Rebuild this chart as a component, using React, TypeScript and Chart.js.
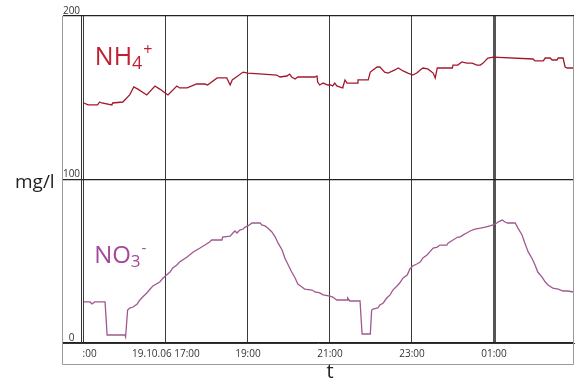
import { useEffect, useRef } from "react";
import { Chart, registerables } from "chart.js";

Chart.register(...registerables);

// time in minutes after 19.10.06 15:00
const X_MIN = -32;
const X_MAX = 717;
const X_TICKS = [0, 120, 240, 360, 480, 600];
const X_TICK_LABELS = ["15:00", "19.10.06 17:00", "19:00", "21:00", "23:00", "01:00"];
const Y_TICKS = [0, 100, 200];
const Y_TICK_LABELS = ["0", "100", "200"];

const NH4_TIME = [0, 6, 20, 23, 26, 41, 42, 57, 67, 73, 79, 92, 104, 111, 121, 123, 136, 140, 151, 165, 177, 181, 195, 209, 214, 217, 221, 233, 240, 262, 282, 287, 297, 301, 304, 309, 313, 338, 341, 342, 345, 350, 357, 361, 364, 367, 370, 378, 379, 382, 385, 400, 401, 416, 419, 423, 429, 433, 440, 445, 455, 460, 467, 474, 481, 487, 492, 496, 503, 509, 511, 514, 517, 525, 539, 540, 547, 553, 560, 568, 575, 580, 584, 591, 599, 657, 660, 672, 675, 682, 685, 692, 694, 701, 704, 707, 711, 716];
const NH4_VALUES = [146.8, 145.6, 145.6, 147.4, 146.8, 145.6, 146.8, 147.4, 151.7, 156.6, 155.3, 151.7, 157.2, 155.3, 152.3, 151.7, 157.2, 156.0, 156.0, 158.4, 158.4, 157.8, 162.1, 162.1, 157.8, 160.9, 162.1, 165.7, 165.1, 164.5, 163.9, 162.7, 163.3, 164.5, 162.7, 161.5, 162.7, 162.7, 163.3, 159.6, 157.8, 159.0, 157.8, 157.8, 157.2, 159.0, 157.2, 156.0, 156.6, 160.9, 159.0, 159.0, 160.9, 160.9, 165.7, 167.0, 168.8, 168.8, 165.7, 165.1, 167.0, 168.2, 166.4, 165.1, 163.9, 165.1, 167.0, 168.2, 167.6, 165.7, 165.1, 162.1, 168.2, 168.2, 168.2, 170.0, 170.0, 171.9, 171.2, 171.2, 170.0, 170.0, 171.2, 174.3, 174.9, 173.7, 172.5, 172.5, 174.3, 174.3, 173.1, 173.1, 174.3, 174.3, 168.8, 168.2, 168.2, 168.2];

const NO3_TIME = [0, 9, 12, 13, 16, 31, 34, 60, 61, 64, 67, 72, 78, 82, 86, 92, 97, 101, 111, 116, 121, 126, 130, 136, 140, 151, 160, 170, 177, 184, 187, 202, 203, 214, 218, 221, 224, 228, 233, 236, 240, 246, 258, 260, 265, 269, 275, 280, 284, 290, 294, 299, 304, 309, 313, 319, 323, 334, 338, 345, 350, 360, 364, 370, 385, 386, 389, 404, 407, 419, 421, 423, 430, 433, 438, 443, 448, 452, 458, 462, 467, 473, 477, 481, 487, 492, 496, 502, 506, 511, 517, 521, 531, 533, 540, 547, 550, 555, 560, 565, 572, 580, 587, 594, 599, 604, 606, 612, 616, 620, 631, 635, 641, 645, 650, 656, 660, 664, 670, 675, 679, 686, 694, 701, 708, 716];
const NO3_VALUES = [25.1, 25.1, 23.9, 23.9, 25.1, 25.1, 4.9, 4.9, 3.7, 20.2, 21.4, 22.0, 23.9, 26.3, 28.1, 30.6, 33.0, 34.9, 37.3, 39.8, 41.6, 43.4, 45.9, 47.7, 49.5, 52.6, 55.7, 58.1, 59.9, 61.8, 63.0, 63.0, 64.8, 65.4, 67.3, 68.5, 67.3, 69.1, 69.7, 70.9, 71.6, 73.4, 73.4, 72.2, 71.6, 70.3, 67.9, 64.8, 61.2, 56.9, 52.0, 47.7, 43.4, 39.8, 36.1, 34.2, 33.0, 32.4, 31.2, 30.6, 29.4, 28.7, 28.1, 26.3, 26.3, 27.5, 25.7, 25.7, 5.5, 5.5, 20.2, 20.8, 21.4, 23.2, 24.5, 27.5, 29.4, 32.4, 34.9, 36.7, 39.8, 41.6, 45.3, 47.1, 48.3, 49.5, 52.0, 53.8, 55.7, 58.1, 58.7, 59.9, 59.9, 61.2, 63.0, 64.8, 64.8, 66.1, 67.3, 68.5, 69.7, 70.3, 70.9, 71.6, 72.2, 73.4, 74.0, 75.2, 74.0, 73.4, 73.4, 70.3, 66.1, 61.2, 55.7, 51.4, 47.7, 43.4, 40.4, 37.3, 35.5, 33.6, 33.0, 31.8, 31.8, 31.2];

const NH4_COLOR = "#a3182c";
const NH4_TEXT = "#c21f32";
const NO3_COLOR = "#a0588f";
const NO3_TEXT = "#a5479a";
const FONT = '"Open Sans", "DejaVu Sans", sans-serif';

const overlay = {
  id: "overlay",
  beforeDatasetsDraw(chart: any) {
    const { ctx, chartArea: a, scales } = chart;
    const x = scales.x;
    ctx.save();
    ctx.strokeStyle = "#333";
    ctx.lineWidth = 1;
    const p0 = Math.round(x.getPixelForValue(X_TICKS[0]));
    ctx.beginPath();
    ctx.moveTo(p0 - 2.5, a.top);
    ctx.lineTo(p0 - 2.5, a.bottom);
    ctx.stroke();
    ctx.restore();
  },
  afterDraw(chart: any) {
    const { ctx, chartArea: a, scales } = chart;
    const x = scales.x;
    const y = scales.y;
    const stripBottom = a.bottom + 21;
    ctx.save();
    // frame around plot and tick strip
    ctx.strokeStyle = "#9a9a9a";
    ctx.lineWidth = 1;
    ctx.beginPath();
    ctx.moveTo(a.left + 0.5, a.top);
    ctx.lineTo(a.left + 0.5, stripBottom + 0.5);
    ctx.lineTo(a.right - 0.5, stripBottom + 0.5);
    ctx.lineTo(a.right - 0.5, a.top);
    ctx.stroke();

    // x tick labels
    ctx.fillStyle = "#333";
    ctx.font = `10px ${FONT}`;
    ctx.textAlign = "center";
    ctx.textBaseline = "middle";
    const ly = (a.bottom + stripBottom) / 2 + 0.5;
    X_TICKS.forEach((v, i) => {
      const px = x.getPixelForValue(v);
      if (i === 0) {
        ctx.save();
        ctx.beginPath();
        ctx.rect(px - 1, a.bottom, 60, 21);
        ctx.clip();
        ctx.fillText(X_TICK_LABELS[i], px, ly);
        ctx.restore();
      } else {
        ctx.fillText(X_TICK_LABELS[i], px, ly);
      }
    });

    // y tick labels (inside, above grid lines)
    ctx.textBaseline = "alphabetic";
    ctx.font = `10px ${FONT}`;
    ctx.fillStyle = "#333";
    Y_TICKS.forEach((v, i) => {
      ctx.fillText(Y_TICK_LABELS[i], a.left + 9.5, y.getPixelForValue(v) - 2.5);
    });

    // axis titles
    ctx.fillStyle = "#222";
    ctx.font = `19px ${FONT}`;
    ctx.textAlign = "left";
    ctx.fillText("mg/l", 15, y.getPixelForValue(100) + 8);
    ctx.textAlign = "center";
    ctx.font = `20px ${FONT}`;
    ctx.fillText("t", x.getPixelForValue(360), stripBottom + 14);

    // series labels
    const drawLabel = (main: string, sub: string, sup: string, t: number, v: number, color: string, size: number) => {
      const bx = x.getPixelForValue(t);
      const by = y.getPixelForValue(v);
      ctx.fillStyle = color;
      ctx.textAlign = "left";
      ctx.font = `${size}px ${FONT}`;
      ctx.fillText(main, bx, by);
      let w = ctx.measureText(main).width;
      ctx.font = `${Math.round(size * 0.72)}px ${FONT}`;
      ctx.fillText(sub, bx + w, by + 4);
      const ws = ctx.measureText(sub).width;
      ctx.font = `${Math.round(size * 0.64)}px ${FONT}`;
      ctx.fillText(sup, bx + w + ws + 1, by - 10);
    };
    drawLabel("NH", "4", "+", 16, 170, NH4_TEXT, 25);
    drawLabel("NO", "3", "-", 15, 49, NO3_TEXT, 24);
    ctx.restore();
  },
};

export default function App() {
  const ref = useRef<HTMLCanvasElement | null>(null);
  useEffect(() => {
    if (!ref.current) return;
    const chart = new Chart(ref.current, {
      type: "line",
      data: {
        datasets: [
          {
            label: "NH4+",
            data: NH4_TIME.map((t, i) => ({ x: t, y: NH4_VALUES[i] })),
            borderColor: NH4_COLOR,
            borderWidth: 1.3,
            pointRadius: 0,
            tension: 0,
            fill: false,
          },
          {
            label: "NO3-",
            data: NO3_TIME.map((t, i) => ({ x: t, y: NO3_VALUES[i] })),
            borderColor: NO3_COLOR,
            borderWidth: 1.3,
            pointRadius: 0,
            tension: 0,
            fill: false,
          },
        ],
      },
      options: {
        animation: false,
        responsive: false,
        devicePixelRatio: 1,
        layout: { padding: { left: 62, top: 16, right: 10, bottom: 45 } },
        plugins: { legend: { display: false }, tooltip: { enabled: false } },
        scales: {
          x: {
            type: "linear",
            min: X_MIN,
            max: X_MAX,
            afterBuildTicks: (s: any) => {
              s.ticks = X_TICKS.map((v) => ({ value: v }));
            },
            ticks: { display: false },
            grid: {
              drawTicks: false,
              color: (c: any) => (c.tick && c.tick.value === 600 ? "#555" : "#3a3a3a"),
              lineWidth: (c: any) => (c.tick && c.tick.value === 600 ? 3 : 1),
            },
            border: { display: true, color: "#333", width: 1 },
          },
          y: {
            min: 0,
            max: 200,
            afterBuildTicks: (s: any) => {
              s.ticks = Y_TICKS.map((v) => ({ value: v }));
            },
            ticks: { display: false },
            grid: { drawTicks: false, color: "#222", lineWidth: 1.2 },
            border: { display: true, color: "#9a9a9a", width: 1 },
          },
        },
      },
      plugins: [overlay],
    });
    return () => chart.destroy();
  }, []);
  return (
    <div style={{ position: "absolute", left: 0, top: 0, width: 584, height: 388, background: "#fff" }}>
      <canvas ref={ref} width={584} height={388} style={{ display: "block" }} />
    </div>
  );
}
